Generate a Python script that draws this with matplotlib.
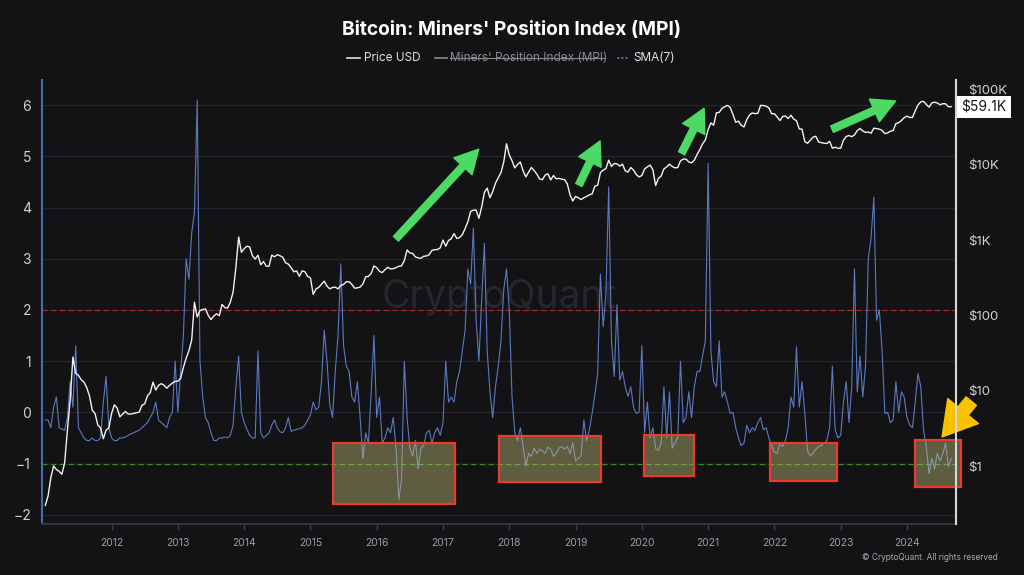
import matplotlib
matplotlib.use('Agg')
import matplotlib.pyplot as plt
from matplotlib.lines import Line2D
from matplotlib.patches import Rectangle
from matplotlib.ticker import NullLocator
import numpy as np

plt.rcParams['font.family'] = ['Inter', 'DejaVu Sans']

# semi-monthly samples (1st / 16th of each month), Jan 2011 .. Sep 2024
price_2011 = [0.30, 0.40, 0.70, 1.0, 0.90, 0.85, 0.78, 1.1, 3.0, 7.5, 28, 17,
              16, 14, 13, 11, 8.5, 5.5, 5.0, 3.5, 3.2, 2.3, 3.0, 3.2]
price_2012 = [5.0, 6.5, 5.9, 4.5, 4.9, 5.3, 4.9, 4.9, 5.0, 5.1, 5.2, 6.4,
              6.7, 8.6, 9.4, 13.0, 10.2, 11.8, 12.4, 11.8, 10.8, 11.8, 12.6, 13.3]
price_2013 = [13.4, 14.6, 20.4, 27, 34, 47, 150, 95, 116, 120, 122, 100,
              88, 98, 105, 99, 140, 127, 125, 150, 205, 430, 1100, 690]
price_2014 = [770, 830, 810, 620, 560, 630, 470, 520, 450, 450, 630, 600,
              640, 620, 590, 500, 480, 430, 380, 390, 330, 390, 380, 330]
price_2015 = [315, 190, 225, 235, 260, 285, 245, 225, 235, 237, 225, 250,
              258, 280, 280, 258, 230, 232, 238, 262, 325, 330, 360, 455]
price_2016 = [430, 385, 370, 405, 435, 415, 417, 430, 450, 455, 535, 740,
              675, 665, 600, 580, 575, 610, 615, 640, 730, 745, 750, 790]
price_2017 = [1000, 830, 990, 1040, 1220, 1050, 1080, 1180, 1420, 1750, 2400, 2500,
              2500, 1950, 2750, 4300, 4900, 3650, 4400, 5700, 6700, 7900, 10900, 19000]
price_2018 = [13500, 11300, 9100, 10100, 10900, 8300, 6900, 8000, 9200, 8400, 7500, 6500,
              6350, 7300, 7600, 6300, 7200, 6500, 6600, 6450, 6350, 5600, 4000, 3300]
price_2019 = [3800, 3650, 3450, 3650, 3800, 4000, 4100, 5200, 5350, 7900, 8500, 8900,
              11500, 9500, 10400, 10300, 9600, 10200, 8300, 8000, 9200, 8500, 7400, 6900]
price_2020 = [7200, 8800, 9400, 9900, 8600, 5300, 6600, 7100, 8800, 9400, 10200, 9500,
              9100, 9200, 11300, 11900, 11900, 10900, 10600, 11500, 13700, 15900, 19000, 21300]
price_2021 = [29400, 36000, 33500, 49000, 49600, 56000, 59000, 61500, 57800, 46500, 36700, 38000,
              33500, 31800, 39900, 45900, 48800, 47800, 48200, 61500, 61300, 60000, 57000, 47600]
price_2022 = [47700, 43100, 38700, 43900, 44400, 41100, 45500, 40500, 38500, 29900, 29800, 20400,
              19300, 21200, 23300, 23900, 20100, 19700, 19300, 19200, 20500, 16600, 17100, 16600]
price_2023 = [16600, 21200, 23700, 24500, 23600, 24900, 28500, 30300, 28100, 27000, 27200, 26300,
              30600, 30250, 29700, 28700, 25900, 26500, 27900, 28500, 35400, 36200, 38700, 42200]
price_2024 = [44200, 42500, 42600, 52100, 62400, 68400, 69700, 63400, 58300, 66200, 67800, 66200,
              62700, 64800, 64600, 59000, 59100]

sma_2011 = [-0.15, -0.15, -0.3, 0.1, 0.3, -0.3, -0.33, -0.35, -0.1, 0.6, 0.1, 1.3,
            -0.3, -0.4, -0.5, -0.55, -0.55, -0.5, -0.55, -0.55, -0.5, 0.2, 0.7, -0.3]
sma_2012 = [-0.5, -0.55, -0.55, -0.5, -0.5, -0.48, -0.45, -0.42, -0.4, -0.37, -0.35, -0.3,
            -0.25, -0.2, -0.1, 0.0, 0.2, -0.15, -0.2, -0.25, -0.3, -0.1, 0.0, 1.0]
sma_2013 = [0.0, 0.8, 1.5, 3.0, 2.6, 3.5, 3.9, 6.1, 1.0, 0.3, -0.1, -0.2,
            -0.4, -0.55, -0.55, -0.5, -0.5, -0.48, -0.5, -0.45, -0.25, 0.5, 1.1, 0.0]
sma_2014 = [-0.2, -0.33, -0.45, -0.5, -0.5, 1.2, -0.4, -0.5, -0.45, -0.4, -0.25, -0.15,
            -0.3, -0.38, -0.4, -0.3, -0.1, -0.37, -0.35, -0.33, -0.32, -0.3, -0.25, -0.15]
sma_2015 = [-0.05, 0.2, 0.05, 0.1, 0.6, 1.6, 1.0, 0.15, -0.1, 0.8, 1.5, 2.9,
            1.3, 0.9, 0.8, 0.3, 0.2, 0.6, -0.1, -0.9, -0.4, -0.6, 0.4, 1.5]
sma_2016 = [-0.1, 0.3, -0.6, -0.5, -0.3, -0.4, -0.1, -0.7, -1.7, -1.3, 1.0, -0.1,
            -0.7, -0.85, -0.55, -1.1, -0.7, -0.65, -0.4, -0.35, -0.6, -0.4, -0.3, -0.45]
sma_2017 = [-0.2, 1.0, 0.2, 0.3, 0.2, 0.6, 0.8, 1.2, 1.6, 2.8, 2.5, 3.6,
            1.8, 1.0, 2.2, 3.3, 1.2, 0.4, -0.1, 0.5, 0.9, 1.4, 2.4, 2.8]
sma_2018 = [2.0, 0.3, -0.4, -0.55, -0.3, -0.65, -1.05, -0.8, -0.86, -0.7, -0.8, -0.72,
            -0.75, -0.8, -0.68, -0.72, -0.86, -0.8, -0.7, -0.67, -0.72, -0.67, -0.8, -0.6]
sma_2019 = [-0.95, -0.9, -0.85, -0.15, -0.55, -0.34, -0.02, 0.35, 0.75, 2.7, 1.67, 2.3,
            4.4, 1.41, 0.7, 2.1, 0.63, 0.8, 0.5, 0.31, 0.5, 0.1, -0.02, 0.0]
sma_2020 = [1.3, -0.4, 0.2, -0.5, -0.3, -0.7, -0.75, -0.6, 0.5, -0.5, 0.4, -0.7,
            -0.6, -0.5, 1.0, -0.2, -0.1, 0.4, -0.1, 0.5, 0.8, 0.8, 1.1, 1.4]
sma_2021 = [4.86, 1.2, 0.6, 0.5, 1.4, 0.3, 0.4, 0.2, -0.02, 0.0, -0.3, -0.5,
            -0.65, -0.6, -0.25, -0.4, -0.3, -0.35, -0.2, -0.1, -0.34, -0.3, -0.5, -0.65]
sma_2022 = [-0.78, -0.8, -0.6, -0.67, -0.55, -0.3, 0.3, 0.1, 1.28, 0.1, 0.6, 0.0,
            -0.75, -0.85, -0.8, -0.72, -0.67, -0.65, -0.6, -0.55, -0.3, 0.9, -0.34, -0.5]
sma_2023 = [-0.45, 0.2, 0.6, -0.2, 0.5, 2.8, 0.4, 1.1, 0.3, 0.9, 3.0, 3.4,
            4.2, 1.8, 2.0, 1.2, -0.02, 0.0, -0.2, -0.15, 0.6, 0.0, 0.4, 0.3]
sma_2024 = [-0.1, -0.25, -0.3, 0.2, 0.76, 0.5, -0.34, -0.67, -1.2, -0.9, -1.1, -0.8,
            -0.95, -0.8, -0.6, -1.06, -0.9]

year_ticks = list(range(2012, 2025))
mpi_ticks = [-2, -1, 0, 1, 2, 3, 4, 5, 6]
price_ticks = [1, 10, 100, 1000, 10000, 100000]
price_tick_labels = ['$1', '$10', '$100', '$1K', '$10K', '$100K']
price_label = '$59.1K'

price = np.concatenate([price_2011, price_2012, price_2013, price_2014, price_2015,
                        price_2016, price_2017, price_2018, price_2019, price_2020,
                        price_2021, price_2022, price_2023, price_2024])
sma7 = np.concatenate([sma_2011, sma_2012, sma_2013, sma_2014, sma_2015, sma_2016,
                       sma_2017, sma_2018, sma_2019, sma_2020, sma_2021, sma_2022,
                       sma_2023, sma_2024])
t = 2011 + np.arange(len(price)) / 24.0

BG = '#131316'
fig = plt.figure(figsize=(10.24, 5.75), dpi=100, facecolor=BG)
ax = fig.add_axes([42 / 1024, 1 - 524 / 575, 914 / 1024, 444 / 575])
ax.set_facecolor(BG)
ax2 = ax.twinx()

# MPI side
ax.plot(t, sma7, color='#5a79bf', lw=0.8, zorder=2)
ax.axhline(2, color='#a82424', lw=0.9, ls=(0, (4, 3)), zorder=1)
ax.axhline(-1, color='#3b8a22', lw=0.9, ls=(0, (4, 3)), zorder=1)
ax.set_xlim(2010.95, 2024.74)
ax.set_ylim(-2.18, 6.49)
ax.set_yticks(mpi_ticks)
ax.set_xticks(year_ticks)
ax.set_xticklabels([str(y) for y in year_ticks])
ax.yaxis.grid(True, color='#24242a', lw=0.9, zorder=0)
ax.set_axisbelow(True)
ax.tick_params(axis='y', length=0, pad=8, labelsize=10, labelcolor='#d0d0d0')
ax.tick_params(axis='x', length=4, width=1, color='#3a3a44', pad=6,
               labelsize=7.5, labelcolor='#9a9aa2')
for s in ['top', 'right']:
    ax.spines[s].set_visible(False)
ax.spines['left'].set_color('#4a6bb0')
ax.spines['left'].set_linewidth(1.5)
ax.spines['bottom'].set_color('#33333b')
ax.spines['bottom'].set_linewidth(1.5)

ax.text(0.5, 0.51, 'CryptoQuant', transform=ax.transAxes, ha='center', va='center',
        fontsize=28, color='#26262b', zorder=0)

# highlighted accumulation zones
zones = [(2015.34, 2017.18, -1.785, -0.595), (2017.84, 2019.38, -1.356, -0.46),
         (2020.03, 2020.78, -1.24, -0.44), (2021.93, 2022.94, -1.34, -0.60),
         (2024.12, 2024.81, -1.45, -0.54)]
for x0, x1, y0, y1 in zones:
    ax.add_patch(Rectangle((x0, y0), x1 - x0, y1 - y0, facecolor='#c8c47a', alpha=0.42,
                           edgecolor='none', zorder=3, clip_on=False))
    ax.add_patch(Rectangle((x0, y0), x1 - x0, y1 - y0, facecolor='none',
                           edgecolor='#ee3a2c', lw=1.6, zorder=4, clip_on=False))

# green trend arrows
green = [((2016.29, 3.39), (2017.54, 5.14)), ((2019.05, 4.44), (2019.37, 5.30)),
         ((2020.60, 5.06), (2020.94, 5.94)), ((2022.87, 5.53), (2023.83, 6.08))]
for tail, tip in green:
    ax.annotate('', xy=tip, xytext=tail, annotation_clip=False, zorder=5,
                arrowprops=dict(arrowstyle='simple,head_width=0.85,head_length=0.8,tail_width=0.24',
                                color='#4cd964', mutation_scale=21, shrinkA=0, shrinkB=0))
ax.annotate('', xy=(2024.53, -0.48), xytext=(2024.97, 0.22), annotation_clip=False, zorder=5,
            arrowprops=dict(arrowstyle='simple,head_width=0.95,head_length=0.8,tail_width=0.32',
                            color='#f7c200', mutation_scale=30, shrinkA=0, shrinkB=0))

# price side
ax2.plot(t, price, color='#f2f2f2', lw=1.0, zorder=3)
ax2.set_yscale('log')
ax2.set_ylim(10 ** -0.77, 10 ** 5.126)
ax2.set_yticks(price_ticks)
ax2.set_yticklabels(price_tick_labels)
ax2.yaxis.set_minor_locator(NullLocator())
ax2.tick_params(axis='y', length=0, pad=9, labelsize=9.5, labelcolor='#d0d0d0')
for s in ['top', 'left', 'bottom']:
    ax2.spines[s].set_visible(False)
ax2.spines['right'].set_color('#d8d8d8')
ax2.spines['right'].set_linewidth(1.5)
ax2.annotate(price_label, xy=(1, price[-1]), xycoords=('axes fraction', 'data'),
             xytext=(4, 0), textcoords='offset points', ha='left', va='center',
             fontsize=10, color='#151515', annotation_clip=False,
             bbox=dict(boxstyle='square,pad=0.3', fc='white', ec='none'))

# title and legend
fig.text(0.5, 1 - 30 / 575, "Bitcoin: Miners' Position Index (MPI)", ha='center', va='center',
         fontsize=13.8, fontweight='bold', color='white')
ly = 1 - 58 / 575
fig.add_artist(Line2D([347 / 1024, 360 / 1024], [ly, ly], color='#e0e0e0', lw=1.2))
fig.text(364 / 1024, ly, 'Price USD', ha='left', va='center', fontsize=8.5, color='#e0e0e0')
fig.add_artist(Line2D([435 / 1024, 447 / 1024], [ly, ly], color='#8a8a8e', lw=1.2))
fig.text(450 / 1024, ly, "Miners' Position Index (MPI)", ha='left', va='center',
         fontsize=8.5, color='#8a8a8e')
fig.add_artist(Line2D([450 / 1024, 605 / 1024], [ly, ly], color='#8a8a8e', lw=0.8))
fig.add_artist(Line2D([617 / 1024, 629 / 1024], [ly, ly], color='#4f6cab', lw=1.2,
                      ls=(0, (1.5, 1))))
fig.text(633 / 1024, ly, 'SMA(7)', ha='left', va='center', fontsize=8.5, color='#e0e0e0')

fig.text(998 / 1024, 1 - 557 / 575, '© CryptoQuant. All rights reserved', ha='right',
         va='center', fontsize=6, color='#a8a8ae')

fig.savefig('out.png', dpi=100, facecolor=BG)
